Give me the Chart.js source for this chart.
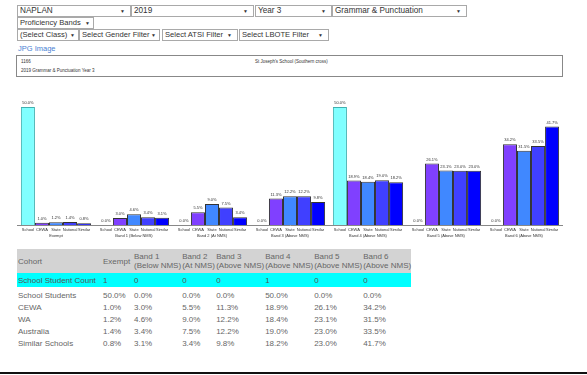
<!DOCTYPE html>
<html>
<head>
<meta charset="utf-8">
<script src="https://cdn.jsdelivr.net/npm/chart.js@4.4.1/dist/chart.umd.min.js"></script>
<style>
  body { margin: 0; width: 587px; height: 375px; background: #fff; font-family: "Liberation Sans", Arial, sans-serif; position: relative; overflow: hidden; }
  .sel { position: absolute; height: 10px; border: 1px solid #a9a9a9; background: #fff; font-size: 8.2px; line-height: 10px; color: #333; padding-left: 2px; box-sizing: content-box; white-space: nowrap; }
  .sel .arr { position: absolute; right: 5px; top: 0; font-size: 5px; }
  #jpg { position: absolute; left: 18px; top: 44px; font-size: 7.5px; color: #4a7fd4; }
  #info { position: absolute; left: 16px; top: 55px; width: 545px; height: 20px; border: 1px solid #888; font-size: 4.5px; color: #333; }
  #chart-wrap { position: absolute; left: 17px; top: 95px; width: 546px; height: 151px; }
  table { position: absolute; left: 17px; top: 249px; border-collapse: collapse; font-size: 8px; color: #666; }
  td, th { padding: 0 0 0 1px; text-align: left; font-weight: normal; height: 12px; line-height: 9px; white-space: nowrap; }
  th { background: #d3d3d3; height: 24px; vertical-align: middle; }
  tr.count td { background: #00ffff; height: 14px; color: #555; }
  tr.gap td { height: 2px; }
  #rule { position: absolute; left: 0; top: 372px; width: 587px; height: 2px; background: #111; }
</style>
</head>
<body>
<div class="sel" style="left:17px;top:5px;width:110px">NAPLAN<span class="arr">▼</span></div>
<div class="sel" style="left:131px;top:5px;width:119px">2019<span class="arr">▼</span></div>
<div class="sel" style="left:255px;top:5px;width:73px">Year 3<span class="arr">▼</span></div>
<div class="sel" style="left:332px;top:5px;width:131px">Grammar &amp; Punctuation<span class="arr">▼</span></div>
<div class="sel" style="left:17px;top:17px;width:73px;font-size:7.6px">Proficiency Bands<span class="arr" style="right:3px">▼</span></div>
<div class="sel" style="left:17px;top:29px;width:58px;font-size:7.6px">(Select Class)<span class="arr" style="right:3px">▼</span></div>
<div class="sel" style="left:79px;top:29px;width:77px;font-size:7.6px">Select Gender Filter<span class="arr" style="right:3px">▼</span></div>
<div class="sel" style="left:162px;top:29px;width:72px;font-size:7.6px">Select ATSI Filter<span class="arr">▼</span></div>
<div class="sel" style="left:239px;top:29px;width:86px;font-size:7.6px">Select LBOTE Filter<span class="arr">▼</span></div>
<div id="jpg">JPG Image</div>
<div id="info">
  <div style="position:absolute;left:4px;top:3px">1166</div>
  <div style="position:absolute;left:238px;top:3px">St Joseph's School (Southern cross)</div>
  <div style="position:absolute;left:4px;top:12px">2019 Grammar &amp; Punctuation Year 3</div>
</div>
<div id="chart-wrap"><canvas id="chart"></canvas></div>
<table id="tbl"></table>
<div id="rule"></div>
<script>
// bands (categories) and cohorts (series)
const bands = ['Exempt', 'Band 1 (Below NMS)', 'Band 2 (At NMS)', 'Band 3 (Above NMS)',
  'Band 4 (Above NMS)', 'Band 5 (Above NMS)', 'Band 6 (Above NMS)'];
const cohorts = ['School', 'CEWA', 'State', 'National', 'Similar'];

const schoolPct   = [50.0, 0.0, 0.0, 0.0, 50.0, 0.0, 0.0];
const cewaPct     = [1.0, 3.0, 5.5, 11.3, 18.9, 26.1, 34.2];
const statePct    = [1.2, 4.6, 9.0, 12.2, 18.4, 23.1, 31.5];
const nationalPct = [1.4, 3.4, 7.5, 12.2, 19.0, 23.0, 33.5];
const similarPct  = [0.8, 3.1, 3.4, 9.8, 18.2, 23.0, 41.7];
const schoolCount = [1, 0, 0, 0, 1, 0, 0];

const colors  = ['#80ffff', '#8040ff', '#4088ff', '#4040ff', '#0000ff'];
const borders = ['#40b0b0', '#333333', '#333333', '#333333', '#333333'];

// table headers
const headCols = ['Cohort', 'Exempt', 'Band 1<br>(Below NMS)', 'Band 2<br>(At NMS)', 'Band 3<br>(Above NMS)',
  'Band 4<br>(Above NMS)', 'Band 5<br>(Above NMS)', 'Band 6<br>(Above NMS)'];
const colWidths = [85, 31, 47, 34, 48, 49, 48, 47];

function buildTable() {
  const tbl = document.getElementById('tbl');
  const pct = v => v.toFixed(1) + '%';
  let html = '<tr>' + headCols.map((h, i) => `<th style="width:${colWidths[i] - 1}px">${h}</th>`).join('') + '</tr>';
  html += '<tr class="count"><td>School Student Count</td>' + schoolCount.map(v => `<td>${v}</td>`).join('') + '</tr>';
  html += '<tr class="gap"><td colspan="8"></td></tr>';
  const rows = [['School Students', schoolPct], ['CEWA', cewaPct], ['WA', statePct],
    ['Australia', nationalPct], ['Similar Schools', similarPct]];
  rows.forEach(([name, vals]) => {
    html += `<tr><td>${name}</td>` + vals.map(v => `<td>${pct(v)}</td>`).join('') + '</tr>';
  });
  tbl.innerHTML = html;
}
buildTable();

// value labels above bars and cohort names under bars
const barText = {
  id: 'barText',
  afterDatasetsDraw(chart) {
    const ctx = chart.ctx;
    const base = chart.scales.y.getPixelForValue(0);
    ctx.save();
    ctx.font = '4px "Liberation Sans", Arial';
    ctx.fillStyle = '#333';
    ctx.textAlign = 'center';
    chart.data.datasets.forEach((ds, di) => {
      chart.getDatasetMeta(di).data.forEach((bar, i) => {
        ctx.textBaseline = 'bottom';
        ctx.fillText(ds.data[i].toFixed(1) + '%', bar.x, bar.y - 2);
        ctx.textBaseline = 'top';
        ctx.fillText(cohorts[di], bar.x, base + 3);
      });
    });
    ctx.restore();
  }
};

const datasets = [schoolPct, cewaPct, statePct, nationalPct, similarPct].map((d, i) => ({
  label: cohorts[i],
  data: d,
  backgroundColor: colors[i],
  borderColor: borders[i],
  borderWidth: 1,
  categoryPercentage: 0.9,
  barPercentage: 1.0
}));

new Chart(document.getElementById('chart'), {
  type: 'bar',
  data: { labels: bands, datasets },
  options: {
    responsive: true,
    maintainAspectRatio: false,
    animation: false,
    layout: { padding: { top: 12, left: 0, right: 0, bottom: 0 } },
    plugins: { legend: { display: false }, tooltip: { enabled: false } },
    scales: {
      x: {
        grid: { display: false, drawTicks: false },
        border: { color: '#888', width: 1 },
        ticks: { font: { size: 4, family: '"Liberation Sans", Arial' }, color: '#333', padding: 8, maxRotation: 0, autoSkip: false }
      },
      y: {
        display: false,
        min: 0,
        max: 50
      }
    }
  },
  plugins: [barText]
});
</script>
</body>
</html>
